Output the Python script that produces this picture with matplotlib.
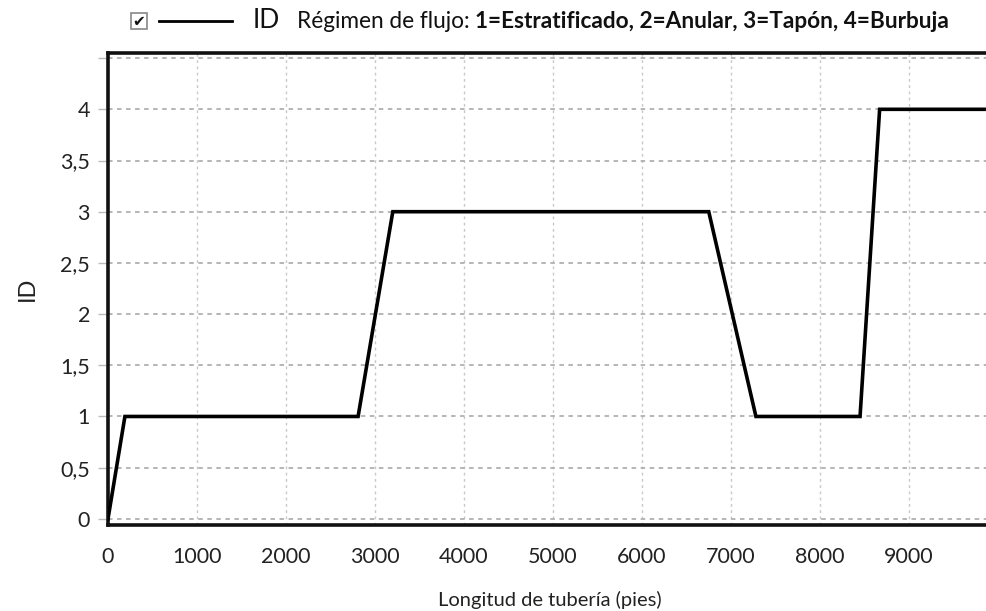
import matplotlib
matplotlib.use("Agg")
import matplotlib.pyplot as plt
from matplotlib.patches import Rectangle
from matplotlib.lines import Line2D

# Flow-regime ID along the pipe
longitud = [0, 190, 2810, 3200, 6750, 7280, 8450, 8670, 10000]
regimen_id = [0, 1, 1, 3, 3, 1, 1, 4, 4]

x_ticks = [0, 1000, 2000, 3000, 4000, 5000, 6000, 7000, 8000, 9000]
y_ticks = [0, 0.5, 1, 1.5, 2, 2.5, 3, 3.5, 4, 4.5]

plt.rcParams["font.family"] = ["Lato", "DejaVu Sans"]

W, H = 986, 611
fig = plt.figure(figsize=(W / 100, H / 100), dpi=100)

left_px, right_px, top_px, bottom_px = 108, 992, 53, 525
ax = fig.add_axes([left_px / W, 1 - bottom_px / H,
                   (right_px - left_px) / W, (bottom_px - top_px) / H])

ax.plot(longitud, regimen_id, color="black", lw=2.6, solid_joinstyle="miter",
        zorder=3)

ax.set_xlim(0, (right_px - left_px) / 89.0 * 1000)
ax.set_ylim(-0.06, 4.55)

ax.set_xticks(x_ticks)
ax.set_yticks(y_ticks)
ax.set_yticklabels([("%g" % v).replace(".", ",") if v < 4.5 else "" for v in y_ticks])

ax.tick_params(axis="both", labelsize=15.5, labelcolor="#222222")
ax.tick_params(axis="x", length=0, pad=16)
ax.tick_params(axis="y", length=7, width=1, color="#bbbbbb", pad=6)

ax.grid(True, axis="y", color="#b0b0b0", linestyle=(0, (2.5, 2.5)), lw=1.3)
ax.grid(True, axis="x", color="#c8c8c8", linestyle=(0, (2, 2.5)), lw=1.0)

for side in ("left", "bottom", "top"):
    ax.spines[side].set_linewidth(2.6)
    ax.spines[side].set_color("#111111")
ax.spines["right"].set_visible(False)

ax.set_ylabel("ID", fontsize=17, color="#222222", labelpad=16)
ax.set_xlabel("Longitud de tubería (pies)", fontsize=14.5, color="#222222",
              labelpad=17)

# Legend-style header drawn on the figure
fig.patches.append(Rectangle((131 / W, 1 - 29 / H), 16 / W, 16 / H,
                             transform=fig.transFigure, fill=False,
                             edgecolor="#888888", lw=1.2))
fig.text(139 / W, 1 - 21.5 / H, "✔", fontsize=11,
         ha="center", va="center", family="DejaVu Sans", color="#111111")
fig.lines.append(Line2D([159 / W, 232 / W], [1 - 21 / H, 1 - 21 / H],
                        transform=fig.transFigure, color="black", lw=2))
fig.text(253 / W, 1 - 28 / H, "ID", fontsize=19, ha="left", va="baseline",
         color="#111111", family=["Liberation Sans Narrow", "Lato"])
t1 = fig.text(297 / W, 1 - 28 / H, "Régimen de flujo: ", fontsize=16.3,
              ha="left", va="baseline", color="#111111")
fig.canvas.draw()
bb = t1.get_window_extent()
fig.text(bb.x1 / W, 1 - 28 / H, "1=Estratificado, 2=Anular, 3=Tapón, 4=Burbuja",
         fontsize=16.3, fontweight="bold", ha="left", va="baseline",
         color="#111111")

fig.savefig("out.png", dpi=100)
